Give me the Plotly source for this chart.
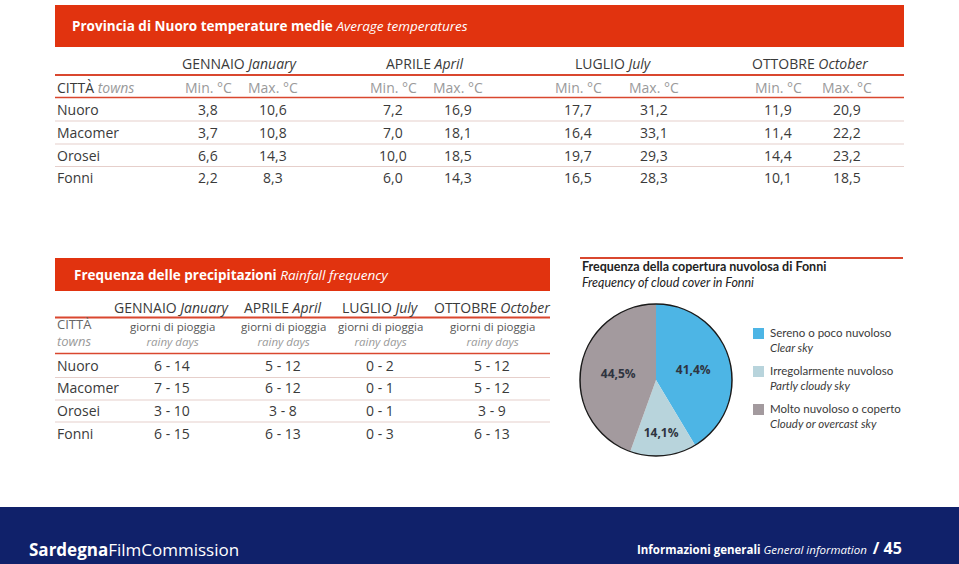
import plotly.graph_objects as go

W, H = 959, 564

# ---------------- data ----------------
towns = ["Nuoro", "Macomer", "Orosei", "Fonni"]
months_it = ["GENNAIO", "APRILE", "LUGLIO", "OTTOBRE"]
months_en = ["January", "April", "July", "October"]

tmin_jan = [3.8, 3.7, 6.6, 2.2]
tmax_jan = [10.6, 10.8, 14.3, 8.3]
tmin_apr = [7.2, 7.0, 10.0, 6.0]
tmax_apr = [16.9, 18.1, 18.5, 14.3]
tmin_jul = [17.7, 16.4, 19.7, 16.5]
tmax_jul = [31.2, 33.1, 29.3, 28.3]
tmin_oct = [11.9, 11.4, 14.4, 10.1]
tmax_oct = [20.9, 22.2, 23.2, 18.5]

rain_lo_jan = [6, 7, 3, 6]
rain_hi_jan = [14, 15, 10, 15]
rain_lo_apr = [5, 6, 3, 6]
rain_hi_apr = [12, 12, 8, 13]
rain_lo_jul = [0, 0, 0, 0]
rain_hi_jul = [2, 1, 1, 3]
rain_lo_oct = [5, 5, 3, 6]
rain_hi_oct = [12, 12, 9, 13]

cloud_it = ["Sereno o poco nuvoloso", "Irregolarmente nuvoloso", "Molto nuvoloso o coperto"]
cloud_en = ["Clear sky", "Partly cloudy sky", "Cloudy or overcast sky"]
cloud_pct = [41.4, 14.1, 44.5]
cloud_colors = ["#4DB5E5", "#B8D4DC", "#A39A9E"]

# ---------------- helpers ----------------
FONT = "Open Sans"
NARROW = "Lato"
RED = "#E1330F"
LINE_RED = "#D9472F"
SEP = "#E6CFCB"
DARK = "#3A3A3A"
GREY = "#9A9A9A"


def X(px):
    return px / W


def Y(py):
    return 1 - py / H


def fmt(v):
    return f"{v:.1f}".replace(".", ",")


ann = []
shapes = []


def text(px, py, s, size=14, color=DARK, anchor="left", yanchor="middle", family=FONT):
    ann.append(dict(x=X(px), y=Y(py), xref="paper", yref="paper", text=s,
                    showarrow=False, xanchor=anchor, yanchor=yanchor, align=anchor if anchor != "center" else "center",
                    font=dict(family=family, size=size, color=color)))


def rect(x0, y0, x1, y1, color):
    shapes.append(dict(type="rect", xref="paper", yref="paper", x0=X(x0), x1=X(x1),
                       y0=Y(y1), y1=Y(y0), fillcolor=color, line=dict(width=0), layer="below"))


def hline(x0, x1, py, color, width):
    shapes.append(dict(type="line", xref="paper", yref="paper", x0=X(x0), x1=X(x1),
                       y0=Y(py), y1=Y(py), line=dict(color=color, width=width)))


# ---------------- temperature table ----------------
rect(55, 5, 904, 47, RED)
text(70, 26, "<b>Provincia di Nuoro temperature medie</b> <i>Average temperatures</i>", 13.5, "white")

month_cx = [240, 425, 613, 810]
min_cx = [208, 393, 578, 778]
max_cx = [273, 458, 654, 847]
tmin = [tmin_jan, tmin_apr, tmin_jul, tmin_oct]
tmax = [tmax_jan, tmax_apr, tmax_jul, tmax_oct]
for m in range(4):
    text(month_cx[m], 64, f"{months_it[m]} <i>{months_en[m]}</i>", 14, DARK, "center")
    text(min_cx[m], 87, "Min. °C", 14, GREY, "center")
    text(max_cx[m], 87, "Max. °C", 14, GREY, "center")
hline(55, 904, 75, LINE_RED, 2.2)
text(55, 87, f"CITTÀ <i><span style='color:{GREY}'>towns</span></i>", 14, DARK)
hline(55, 904, 97.5, LINE_RED, 1.3)

row_y = [109, 132, 155, 178]
for r, town in enumerate(towns):
    text(55, row_y[r], town, 14, DARK)
    for m in range(4):
        text(min_cx[m], row_y[r], fmt(tmin[m][r]), 14, DARK, "center")
        text(max_cx[m], row_y[r], fmt(tmax[m][r]), 14, DARK, "center")
for sy in [121, 144, 166.5]:
    hline(55, 904, sy, SEP, 1.2)

# ---------------- rainfall table ----------------
rect(55, 258, 550, 291, RED)
text(72, 274.5, "<b>Frequenza delle precipitazioni</b> <i>Rainfall frequency</i>", 13.5, "white")

rain_cx = [172, 283, 380, 492]
rlo = [rain_lo_jan, rain_lo_apr, rain_lo_jul, rain_lo_oct]
rhi = [rain_hi_jan, rain_hi_apr, rain_hi_jul, rain_hi_oct]
for m in range(4):
    text(rain_cx[m], 307, f"{months_it[m]} <i>{months_en[m]}</i>", 14, DARK, "center")
    text(rain_cx[m], 333.5, f"giorni di pioggia<br><i><span style='color:{GREY}'>rainy days</span></i>",
         11.5, "#555555", "center")
hline(55, 550, 317.5, LINE_RED, 2)
text(55, 332.5, f"CITTÀ<br><i><span style='color:{GREY}'>towns</span></i>", 13, "#666666")
hline(55, 550, 353.5, LINE_RED, 1.5)

rrow_y = [365, 387.5, 410, 433]
for r, town in enumerate(towns):
    text(55, rrow_y[r], town, 14, DARK)
    for m in range(4):
        text(rain_cx[m], rrow_y[r], f"{rlo[m][r]} - {rhi[m][r]}", 14, DARK, "center")
for sy in [377.5, 400, 422]:
    hline(55, 550, sy, SEP, 1.2)

# ---------------- cloud cover ----------------
hline(580, 903, 258, LINE_RED, 2.2)
text(580, 274, "<b>Frequenza della copertura nuvolosa di Fonni</b><br>"
     "<i>Frequency of cloud cover in Fonni</i>", 12.5, "#222222", family=NARROW)

pcx, pcy, pr = 656, 380, 76
pie = go.Pie(
    values=cloud_pct,
    labels=cloud_it,
    text=[fmt(v) + "%" for v in cloud_pct],
    textinfo="text",
    textposition="inside",
    insidetextorientation="horizontal",
    textfont=dict(family=FONT, size=12, color="#2F3440", weight="bold"),
    marker=dict(colors=cloud_colors, line=dict(width=0)),
    sort=False,
    direction="clockwise",
    rotation=0,
    hole=0,
    showlegend=False,
    hoverinfo="label+text",
    domain=dict(x=[X(pcx - pr), X(pcx + pr)], y=[Y(pcy + pr), Y(pcy - pr)]),
)
shapes.append(dict(type="circle", xref="paper", yref="paper",
                   x0=X(pcx - pr), x1=X(pcx + pr), y0=Y(pcy + pr), y1=Y(pcy - pr),
                   line=dict(color="#1A1A1A", width=1.5), layer="above"))

leg_y = [333, 371, 409]
for i in range(3):
    shapes.append(dict(type="rect", xref="paper", yref="paper", x0=X(753), x1=X(764),
                       y0=Y(leg_y[i] + 6), y1=Y(leg_y[i] - 5), fillcolor=cloud_colors[i],
                       line=dict(width=0)))
    text(768, leg_y[i] + 7, f"{cloud_it[i]}<br><i>{cloud_en[i]}</i>", 11.5, DARK, family=NARROW)

# ---------------- footer ----------------
rect(0, 507, 959, 564, "#10216A")
text(27, 549, "<b>Sardegna</b>FilmCommission", 17, "white")
text(904, 548, "<b>Informazioni generali</b> <i>General information</i>  "
     "<b><span style='font-size:16px'>/ 45</span></b>", 11.5, "white", "right")

fig = go.Figure(pie)
fig.update_layout(
    width=W, height=H,
    margin=dict(l=0, r=0, t=0, b=0),
    paper_bgcolor="white",
    plot_bgcolor="white",
    annotations=ann,
    shapes=shapes,
    showlegend=False,
)
fig.write_html("out.html", config={"displayModeBar": False},
               post_script="document.body.style.margin='0';document.body.style.overflow='hidden';")
